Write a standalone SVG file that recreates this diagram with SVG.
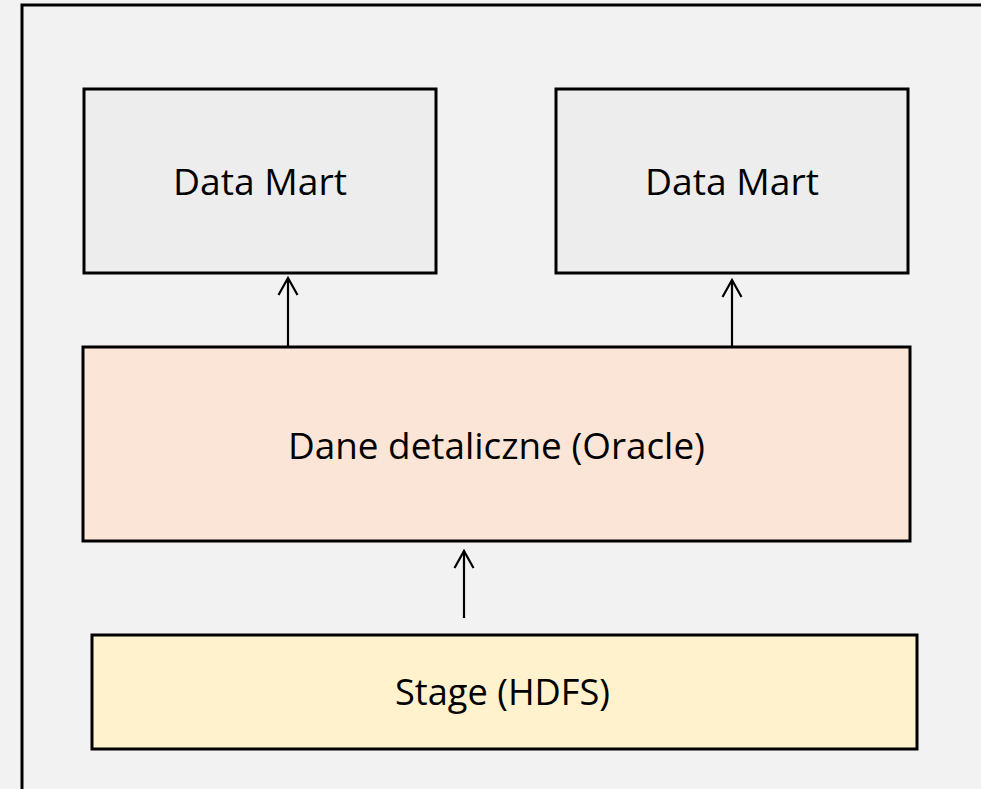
<svg xmlns="http://www.w3.org/2000/svg" width="981" height="789" viewBox="0 0 981 789">
<defs>
<style>
.frame{fill:#F2F2F2;stroke:#000;stroke-width:3}
.box{stroke:#000;stroke-width:3}
.mart{fill:#EDEDED}
.detail{fill:#FBE5D6}
.stage{fill:#FFF2CC}
.lbl{font-family:"Open Sans","Liberation Sans",sans-serif;font-size:37px;fill:#000;text-anchor:middle}
.conn{stroke:#000;stroke-width:2.2;fill:none}
</style>
<marker id="arr" markerUnits="userSpaceOnUse" markerWidth="24" markerHeight="24" viewBox="-20 -12 24 24" refX="0" refY="0" orient="auto">
<path d="M-17,-9.5 L0,0 L-17,9.5" fill="none" stroke="#000" stroke-width="2.2"/>
</marker>
</defs>
<rect x="0" y="0" width="981" height="789" fill="#F2F2F2"/>
<rect class="frame" x="22" y="5" width="990" height="820"/>
<g id="mart1"><rect class="box mart" x="84" y="89" width="352" height="184"/><text class="lbl" x="260" y="195" textLength="174" lengthAdjust="spacingAndGlyphs">Data Mart</text></g>
<g id="mart2"><rect class="box mart" x="556" y="89" width="352" height="184"/><text class="lbl" x="732" y="195" textLength="174" lengthAdjust="spacingAndGlyphs">Data Mart</text></g>
<g id="detail"><rect class="box detail" x="83" y="347" width="827" height="194"/><text class="lbl" x="496.5" y="459" textLength="417" lengthAdjust="spacingAndGlyphs">Dane detaliczne (Oracle)</text></g>
<g id="stage"><rect class="box stage" x="92" y="635" width="825" height="114"/><text class="lbl" x="502.5" y="705" textLength="215" lengthAdjust="spacingAndGlyphs">Stage (HDFS)</text></g>
<g id="connectors">
<line class="conn" x1="288" y1="346" x2="288" y2="278" marker-end="url(#arr)"/>
<line class="conn" x1="732" y1="346" x2="732" y2="280" marker-end="url(#arr)"/>
<line class="conn" x1="464" y1="618" x2="464" y2="551" marker-end="url(#arr)"/>
</g>
</svg>
